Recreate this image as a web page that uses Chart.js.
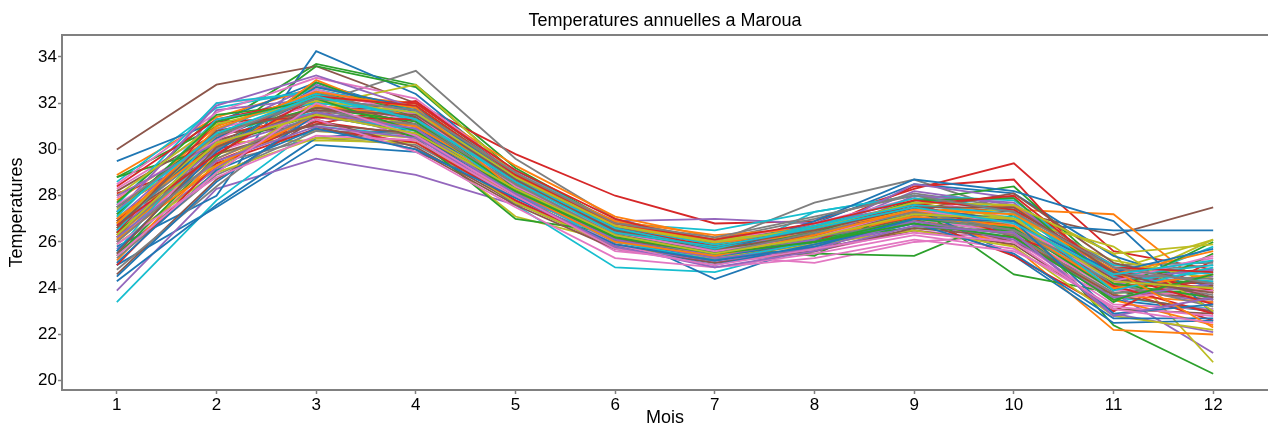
<!DOCTYPE html>
<html>
<head>
<meta charset="utf-8">
<script src="https://cdn.jsdelivr.net/npm/chart.js@4/dist/chart.umd.min.js"></script>
<style>
html,body{margin:0;padding:0;background:#ffffff;}
#wrap{width:1268px;height:426px;position:relative;}
</style>
</head>
<body>
<div id="wrap"><canvas id="c" width="1268" height="426"></canvas></div>
<script>
const months = [1, 2, 3, 4, 5, 6, 7, 8, 9, 10, 11, 12];
const yTicks = [20, 22, 24, 26, 28, 30, 32, 34];
const chartTitle = 'Temperatures annuelles a Maroua';
const xTitle = 'Mois';
const yTitle = 'Temperatures';
const palette = ['#1f77b4', '#ff7f0e', '#2ca02c', '#d62728', '#9467bd', '#8c564b', '#e377c2', '#7f7f7f', '#bcbd22', '#17becf'];

// one row per year, monthly mean temperature (Jan..Dec)
const series = [
  [25.0, 27.5, 30.2, 29.9, 28.2, 26.0, 25.3, 26.0, 26.9, 26.5, 23.5, 23.0],
  [27.8, 30.6, 32.3, 31.4, 28.6, 26.5, 25.8, 26.4, 27.3, 27.0, 24.2, 23.9],
  [28.8, 31.0, 33.7, 32.8, 29.2, 26.8, 25.9, 26.5, 27.4, 26.9, 24.5, 24.2],
  [26.2, 29.2, 31.6, 32.0, 29.8, 28.0, 26.8, 26.9, 28.3, 29.4, 25.6, 24.8],
  [23.9, 28.3, 29.6, 28.9, 27.6, 26.9, 27.0, 26.8, 27.6, 26.6, 24.0, 23.4],
  [30.0, 32.8, 33.6, 32.0, 29.0, 26.7, 25.9, 26.6, 27.6, 27.3, 26.3, 27.5],
  [27.2, 32.0, 32.4, 31.3, 28.4, 26.2, 25.4, 25.1, 26.0, 26.3, 24.1, 23.6],
  [25.5, 29.0, 32.0, 33.4, 29.6, 27.0, 26.0, 27.7, 28.7, 27.3, 24.4, 24.0],
  [26.4, 29.8, 30.8, 30.5, 27.1, 26.0, 25.6, 26.1, 27.0, 27.1, 24.8, 26.1],
  [23.4, 27.8, 31.0, 30.6, 27.6, 24.9, 24.7, 25.8, 26.8, 26.2, 23.6, 23.1],
  [25.8, 28.0, 34.25, 32.4, 28.9, 26.4, 24.4, 25.9, 27.0, 26.8, 26.5, 26.5],
  [28.9, 31.4, 32.7, 31.8, 28.8, 26.6, 25.7, 26.3, 27.3, 27.4, 27.2, 23.8],
  [26.9, 30.4, 33.6, 32.7, 29.0, 26.5, 25.6, 25.5, 25.4, 27.2, 22.4, 20.3],
  [27.5, 30.0, 31.1, 31.9, 28.5, 26.3, 25.6, 26.2, 27.2, 26.7, 24.3, 24.2],
  [26.0, 31.7, 32.2, 31.0, 28.1, 26.1, 25.3, 25.9, 26.8, 26.0, 23.8, 21.2],
  [27.0, 30.3, 32.1, 31.1, 28.3, 26.2, 25.5, 26.0, 27.1, 26.6, 24.0, 23.5],
  [28.3, 30.9, 31.9, 30.4, 28.0, 25.6, 25.2, 25.6, 26.5, 26.1, 23.3, 23.1],
  [26.6, 29.4, 30.5, 30.2, 27.9, 26.0, 25.4, 26.1, 27.0, 26.4, 24.7, 25.0],
  [27.4, 30.3, 30.4, 30.3, 28.0, 26.1, 25.5, 26.3, 26.9, 27.5, 25.5, 20.8],
  [28.6, 31.8, 32.6, 31.7, 29.1, 26.8, 26.5, 27.3, 28.0, 27.4, 24.1, 25.8],
  [29.5, 31.2, 32.9, 31.6, 28.7, 26.6, 25.6, 26.8, 28.5, 28.1, 25.4, 24.0],
  [25.2, 29.6, 31.4, 30.9, 28.3, 26.4, 25.6, 26.2, 27.1, 25.8, 22.2, 22.0],
  [26.4, 30.2, 31.5, 31.3, 28.6, 26.5, 25.8, 25.4, 27.8, 28.4, 24.6, 24.8],
  [28.1, 29.5, 31.2, 30.6, 28.0, 26.3, 25.9, 26.5, 28.4, 28.7, 24.0, 22.6],
  [27.0, 30.8, 32.8, 31.5, 28.7, 26.7, 25.7, 26.4, 28.2, 27.6, 24.9, 23.5],
  [26.2, 30.4, 31.6, 30.8, 28.1, 26.0, 25.4, 26.0, 27.1, 26.0, 24.1, 24.3],
  [27.9, 30.5, 32.2, 31.2, 28.2, 25.9, 25.1, 25.8, 27.0, 26.4, 23.9, 24.0],
  [25.3, 28.9, 30.8, 30.7, 28.4, 26.2, 25.3, 26.5, 27.3, 26.9, 24.5, 23.7],
  [26.6, 29.1, 32.1, 31.0, 28.1, 26.3, 25.7, 26.3, 27.2, 26.8, 24.1, 26.1],
  [26.1, 30.0, 32.9, 31.5, 28.4, 25.7, 25.2, 27.3, 28.0, 27.8, 24.7, 24.3],
  [24.3, 27.6, 30.5, 30.9, 28.5, 26.2, 25.3, 26.1, 27.5, 25.4, 22.5, 22.6],
  [27.3, 31.0, 32.4, 32.0, 29.3, 27.1, 26.2, 26.6, 27.3, 26.6, 23.5, 22.4],
  [28.8, 30.1, 32.4, 31.8, 28.9, 26.6, 26.1, 26.6, 27.6, 24.6, 23.8, 23.9],
  [26.9, 30.6, 31.5, 32.1, 29.0, 26.4, 25.8, 26.7, 27.0, 25.4, 23.0, 25.2],
  [25.7, 29.2, 31.9, 30.6, 27.8, 25.9, 25.1, 25.8, 26.7, 26.4, 22.9, 22.1],
  [24.6, 28.7, 31.3, 30.1, 27.7, 25.8, 25.3, 25.7, 26.5, 25.9, 23.1, 22.9],
  [28.5, 31.6, 33.1, 32.2, 29.0, 26.8, 26.0, 26.8, 27.9, 27.0, 24.5, 25.3],
  [26.8, 30.2, 31.8, 31.6, 28.9, 26.9, 26.1, 27.0, 28.1, 27.5, 25.0, 25.1],
  [25.9, 29.0, 30.5, 30.4, 27.7, 25.8, 25.3, 25.9, 26.5, 25.8, 22.8, 22.2],
  [27.6, 32.0, 32.5, 31.2, 28.2, 26.2, 25.5, 26.4, 27.2, 27.1, 25.0, 24.6],
  [26.7, 30.5, 32.2, 31.7, 28.8, 26.4, 25.5, 26.9, 28.7, 28.2, 26.9, 22.9],
  [26.3, 29.7, 33.0, 31.3, 28.7, 26.7, 25.9, 26.7, 27.4, 26.3, 23.7, 23.4],
  [27.7, 31.5, 32.0, 30.5, 27.0, 26.4, 25.7, 26.2, 26.6, 26.5, 23.4, 25.5],
  [25.0, 29.4, 30.9, 30.3, 27.8, 25.9, 25.2, 26.0, 27.7, 26.2, 24.8, 23.9],
  [26.5, 30.1, 31.4, 30.9, 28.0, 26.2, 25.7, 26.3, 28.5, 27.9, 24.2, 24.5],
  [28.2, 30.7, 31.0, 30.0, 27.6, 25.7, 25.1, 25.6, 26.6, 26.2, 23.7, 23.0],
  [26.0, 29.9, 31.3, 29.9, 27.5, 25.3, 24.9, 25.5, 26.3, 25.7, 23.2, 22.8],
  [24.8, 28.4, 31.7, 31.0, 28.6, 26.1, 25.5, 26.2, 26.9, 26.3, 23.8, 24.1],
  [27.1, 29.3, 31.9, 32.8, 28.9, 26.8, 26.1, 26.5, 27.4, 27.0, 25.2, 24.4],
  [25.6, 30.8, 31.6, 30.8, 28.1, 26.0, 25.2, 26.0, 27.0, 26.6, 24.3, 24.7],
  [24.5, 28.6, 31.5, 30.7, 28.0, 25.8, 25.0, 25.9, 26.8, 25.5, 22.7, 22.7],
  [27.0, 30.2, 31.9, 31.4, 28.8, 26.9, 26.3, 26.6, 27.3, 27.6, 24.6, 25.6],
  [25.4, 29.7, 32.9, 31.4, 28.4, 26.3, 25.6, 26.0, 27.0, 26.6, 23.9, 26.0],
  [28.4, 31.3, 32.2, 32.0, 29.1, 27.0, 25.9, 26.5, 27.5, 26.9, 24.1, 22.9],
  [27.3, 31.9, 33.2, 31.8, 28.5, 26.3, 25.4, 26.1, 28.0, 27.7, 24.4, 24.8],
  [26.9, 29.8, 31.1, 30.7, 28.2, 26.1, 25.6, 26.2, 27.4, 28.1, 25.1, 24.1],
  [25.9, 28.8, 30.6, 30.4, 27.9, 25.9, 24.9, 25.3, 26.1, 25.6, 23.6, 23.9],
  [26.3, 30.0, 32.5, 31.3, 28.3, 26.4, 25.6, 26.4, 27.1, 26.5, 24.2, 23.2],
  [26.8, 30.6, 32.3, 31.9, 28.9, 26.8, 25.9, 26.5, 27.7, 27.0, 25.8, 23.0],
  [27.1, 31.3, 32.0, 31.6, 28.6, 26.6, 25.9, 26.7, 27.9, 27.3, 24.5, 25.0],
  [25.6, 29.9, 32.7, 31.8, 28.7, 26.5, 25.7, 26.6, 27.5, 26.9, 24.7, 25.7],
  [26.1, 29.3, 31.5, 31.0, 28.5, 26.8, 26.0, 26.3, 27.1, 26.7, 24.0, 24.6],
  [27.5, 30.7, 31.8, 31.2, 28.3, 26.2, 25.6, 26.4, 27.8, 27.9, 24.2, 23.6],
  [26.4, 31.2, 31.4, 31.3, 28.6, 26.6, 25.8, 26.6, 27.6, 28.0, 24.6, 23.3],
  [26.2, 29.5, 31.0, 30.5, 28.1, 26.1, 25.3, 25.7, 26.9, 26.1, 23.6, 24.2],
  [25.5, 30.1, 31.8, 31.4, 28.6, 26.5, 25.7, 26.3, 27.2, 26.9, 24.4, 23.8],
  [27.6, 30.4, 32.6, 31.5, 28.4, 26.4, 25.6, 26.2, 27.4, 26.8, 24.3, 25.4],
  [26.0, 29.6, 31.5, 31.1, 28.5, 26.3, 25.5, 26.4, 27.3, 26.5, 24.6, 24.4],
  [28.0, 31.1, 32.1, 31.6, 28.8, 26.7, 26.0, 26.6, 27.7, 27.6, 25.5, 25.9],
  [26.5, 30.9, 32.4, 31.3, 28.7, 26.6, 25.7, 26.7, 27.6, 27.2, 23.9, 24.9],
  [25.1, 29.1, 30.9, 30.0, 27.9, 25.9, 25.2, 25.8, 27.0, 26.9, 22.9, 23.3],
  [26.8, 30.9, 32.5, 31.8, 28.2, 26.0, 25.4, 26.3, 27.4, 27.2, 24.8, 22.3],
  [27.2, 31.2, 32.2, 30.8, 28.2, 26.2, 25.5, 26.0, 26.8, 26.2, 23.5, 24.6],
  [26.7, 29.8, 32.3, 31.9, 28.9, 26.8, 26.1, 26.8, 27.8, 27.4, 24.9, 24.7],
  [28.0, 30.3, 31.6, 30.9, 28.0, 25.8, 24.9, 25.6, 26.7, 26.4, 22.8, 23.6],
  [26.6, 30.8, 31.7, 31.5, 28.7, 26.4, 25.8, 26.5, 27.5, 27.5, 24.7, 23.6],
  [25.4, 29.0, 32.0, 30.6, 28.0, 25.7, 25.0, 25.7, 26.4, 26.0, 23.1, 22.5],
  [27.5, 30.6, 32.2, 31.7, 29.0, 26.8, 26.2, 27.1, 28.0, 27.3, 24.9, 24.2],
  [26.3, 30.3, 31.5, 30.7, 28.3, 26.3, 25.5, 26.2, 27.2, 27.0, 24.3, 24.0],
  [27.3, 30.7, 32.3, 31.3, 28.6, 26.4, 25.8, 26.6, 27.5, 26.8, 24.6, 25.2]
];

const FONT = "'Liberation Sans', Arial, sans-serif";
const AXIS_GREY = '#808080';

const datasets = series.map((vals, i) => ({
  label: 'annee ' + (i + 1),
  data: vals.map((v, j) => ({x: months[j], y: v})),
  borderColor: palette[i % palette.length],
  backgroundColor: palette[i % palette.length],
  borderWidth: 1.8,
  pointRadius: 0,
  tension: 0,
  fill: false,
  order: -i
}));

new Chart(document.getElementById('c'), {
  type: 'line',
  data: {datasets},
  options: {
    responsive: false,
    animation: false,
    devicePixelRatio: 1,
    layout: {padding: 0},
    plugins: {legend: {display: false}, tooltip: {enabled: false}, title: {display: false}},
    scales: {
      x: {
        type: 'linear', position: 'bottom', min: 0.45, max: 12.55,
        afterBuildTicks: s => { s.ticks = months.map(v => ({value: v})); },
        afterFit: s => { s.height = 36; },
        ticks: {autoSkip: false, maxRotation: 0, color: '#000', font: {family: FONT, size: 17}, padding: 1, callback: v => String(v)},
        grid: {drawOnChartArea: false, drawTicks: true, tickLength: 4, color: AXIS_GREY, tickWidth: 1.5},
        border: {display: true, color: AXIS_GREY, width: 2},
        title: {display: true, text: xTitle, color: '#000', font: {family: FONT, size: 18}, padding: {top: 0, bottom: -3}}
      },
      top: {
        type: 'linear', position: 'top', min: 0.45, max: 12.55,
        afterFit: s => { s.height = 35; },
        ticks: {display: false},
        grid: {drawOnChartArea: false, drawTicks: false},
        border: {display: true, color: AXIS_GREY, width: 2},
        title: {display: true, text: chartTitle, color: '#000', font: {family: FONT, size: 18}, padding: {top: 10, bottom: 0}}
      },
      y: {
        type: 'linear', position: 'left', min: 19.6, max: 34.95,
        afterBuildTicks: s => { s.ticks = yTicks.map(v => ({value: v})); },
        afterFit: s => { s.width = 62; },
        ticks: {color: '#000', font: {family: FONT, size: 17}, padding: 1, callback: v => String(v)},
        grid: {drawOnChartArea: false, drawTicks: true, tickLength: 4, color: AXIS_GREY, tickWidth: 1.5},
        border: {display: true, color: AXIS_GREY, width: 2},
        title: {display: true, text: yTitle, color: '#000', font: {family: FONT, size: 18}, padding: {top: 6, bottom: 0}}
      }
    }
  }
});
</script>
</body>
</html>
